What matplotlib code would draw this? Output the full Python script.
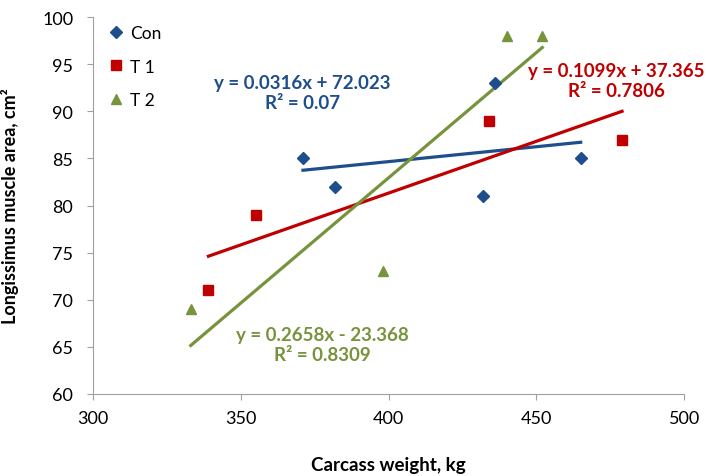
import matplotlib
matplotlib.use("Agg")
import matplotlib.pyplot as plt
import numpy as np

plt.rcParams['font.family'] = ['Lato', 'DejaVu Sans']

con_x = [371, 382, 432, 436, 465]
con_y = [85, 82, 81, 93, 85]
t1_x = [339, 355, 434, 479]
t1_y = [71, 79, 89, 87]
t2_x = [333, 398, 440, 452]
t2_y = [69, 73, 98, 98]

series_names = ["Con", "T 1", "T 2"]
fits = [(0.0316, 72.023), (0.1099, 37.365), (0.2658, -23.368)]
fit_labels = ["y = 0.0316x + 72.023\nR² = 0.07",
              "y = 0.1099x + 37.365\nR² = 0.7806",
              "y = 0.2658x - 23.368\nR² = 0.8309"]

colors = ["#1F4E8C", "#C00000", "#77933C"]
markers = ["D", "s", "^"]
msizes = [6, 6.5, 7]

fig = plt.figure(figsize=(7.06, 4.77), dpi=100)
ax = fig.add_axes([0.132, 0.172, 0.837, 0.790])

data = [(con_x, con_y), (t1_x, t1_y), (t2_x, t2_y)]
for (xs, ys), name, c, m, ms in zip(data, series_names, colors, markers, msizes):
    ax.plot(xs, ys, linestyle='none', marker=m, markersize=ms, color=c, label=name, zorder=3)

for (xs, ys), (a, b), c in zip(data, fits, colors):
    xx = np.array([min(xs), max(xs)])
    ax.plot(xx, a * xx + b, color=c, linewidth=2.3, zorder=2)

label_pos = [(370.7, 92.0), (477, 93.3), (377.5, 65.25)]
for (tx, ty), lab, c in zip(label_pos, fit_labels, colors):
    ax.text(tx, ty, lab, color=c, fontsize=13.5, fontweight='bold',
            ha='center', va='center', linespacing=1.2)

ax.set_xlim(300, 500)
ax.set_ylim(60, 100)
ax.set_xticks([300, 350, 400, 450, 500])
ax.set_yticks([60, 65, 70, 75, 80, 85, 90, 95, 100])
for s in ['top', 'right']:
    ax.spines[s].set_visible(False)
for s in ['left', 'bottom']:
    ax.spines[s].set_color('#A0A0A0')
ax.tick_params(axis='both', colors='#A0A0A0', labelcolor='black', labelsize=13)
ax.tick_params(axis='x', length=4.3, pad=7)
ax.tick_params(axis='y', length=4, pad=10.4)

ax.set_xlabel("Carcass weight, kg", fontsize=13.5, fontweight='bold', va='top')
ax.xaxis.set_label_coords(0.5, -0.164)
ax.set_ylabel("Longissimus muscle area, cm²", fontsize=13, fontweight='bold')
ax.yaxis.set_label_coords(-0.125, 0.5)

ax.legend(loc='upper left', bbox_to_anchor=(0.0, 1.02), frameon=False, fontsize=12.5,
          handlelength=0.8, handletextpad=0.4, labelspacing=1.0, borderaxespad=0.5)

fig.savefig("out.png", dpi=100)
